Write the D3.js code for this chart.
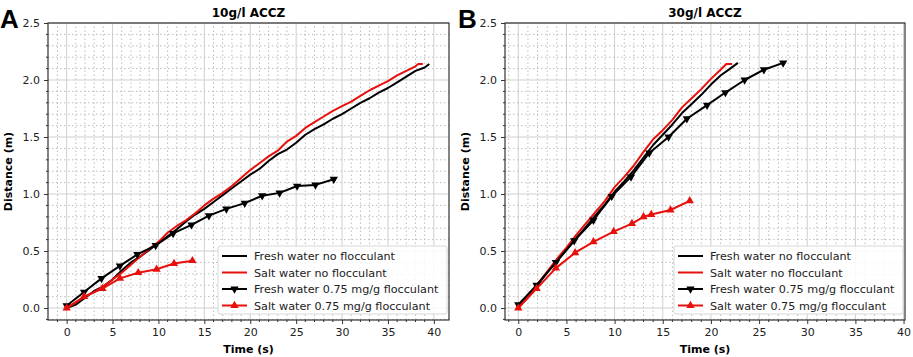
<!DOCTYPE html>
<html>
<head>
<meta charset="utf-8">
<script src="https://cdn.jsdelivr.net/npm/d3@7"></script>
<style>
  body { margin: 0; background: #fff; }
  svg { display: block; font-family: "DejaVu Sans", sans-serif; }
</style>
</head>
<body>
<svg id="drawing_region"></svg>
<script>
// ---- data ----
const xTicks = [0, 5, 10, 15, 20, 25, 30, 35, 40];
const yTicks = [0.0, 0.5, 1.0, 1.5, 2.0, 2.5];
const seriesNames = [
    "Fresh water no flocculant",
    "Salt water no flocculant",
    "Fresh water 0.75 mg/g flocculant",
    "Salt water 0.75 mg/g flocculant"
];

// panel A: 10g/l ACCZ
const freshA_t = [0,1,2,3,4,5,6,7,8,9,10,11,12,13,14,15,16,17,18,19,20,21,22,23,24,25,26,27,28,29,30,31,32,33,34,35,36,37,38,39,39.5];
const freshA_d = [0.0,0.03,0.09,0.15,0.19,0.25,0.33,0.40,0.45,0.51,0.57,0.63,0.69,0.76,0.82,0.87,0.93,0.99,1.05,1.11,1.17,1.22,1.29,1.35,1.39,1.45,1.52,1.57,1.61,1.66,1.70,1.75,1.80,1.84,1.89,1.93,1.98,2.03,2.08,2.11,2.14];
const saltA_t = [0,1,2,3,4,5,6,7,8,9,10,11,12,13,14,15,16,17,18,19,20,21,22,23,24,25,26,27,28,29,30,31,32,33,34,35,36,37,38,38.3,38.8];
const saltA_d = [0.0,0.05,0.10,0.14,0.19,0.25,0.31,0.38,0.45,0.52,0.58,0.66,0.72,0.77,0.83,0.90,0.96,1.01,1.07,1.14,1.21,1.27,1.33,1.38,1.46,1.51,1.58,1.63,1.68,1.73,1.77,1.81,1.86,1.91,1.95,1.99,2.04,2.08,2.12,2.14,2.14];
const freshFlocA_t = [0,1.9,3.8,5.8,7.7,9.7,11.6,13.6,15.5,17.4,19.4,21.3,23.2,25.1,27.1,29.1];
const freshFlocA_d = [0.02,0.14,0.26,0.37,0.47,0.55,0.655,0.73,0.81,0.87,0.92,0.985,1.01,1.07,1.08,1.13];
const saltFlocA_t = [0,1.9,3.9,5.8,7.8,9.8,11.7,13.7];
const saltFlocA_d = [0.0,0.10,0.17,0.26,0.31,0.34,0.39,0.415];

// panel B: 30g/l ACCZ
const freshB_t = [0,1,2,3,4,5,6,7,8,9,10,11,12,13,14,15,16,17,18,19,20,21,22,22.8];
const freshB_d = [0.02,0.10,0.20,0.31,0.41,0.51,0.61,0.71,0.81,0.91,1.02,1.11,1.21,1.32,1.43,1.52,1.61,1.71,1.79,1.87,1.96,2.04,2.10,2.15];
const saltB_t = [0,1,2,3,4,5,6,7,8,9,10,11,12,13,14,15,16,17,18,19,20,21,21.6,22.2];
const saltB_d = [0.0,0.10,0.21,0.32,0.43,0.53,0.64,0.74,0.84,0.94,1.06,1.15,1.25,1.37,1.48,1.56,1.65,1.76,1.84,1.92,2.01,2.09,2.14,2.14];
const freshFlocB_t = [0,1.9,3.9,5.8,7.8,9.7,11.7,13.6,15.6,17.5,19.6,21.5,23.5,25.5,27.5];
const freshFlocB_d = [0.03,0.20,0.40,0.59,0.77,0.98,1.15,1.36,1.50,1.66,1.78,1.89,2.00,2.09,2.15];
const saltFlocB_t = [0,1.9,3.9,5.9,7.8,9.9,11.8,13.0,13.8,15.8,17.8];
const saltFlocB_d = [0.0,0.17,0.35,0.485,0.58,0.67,0.74,0.80,0.82,0.86,0.94];

const zip = (t, d) => t.map((v, i) => ({ t: v, d: d[i] }));

const svg = d3.select('#drawing_region')
    .attr('width', 913)
    .attr('height', 357);

function drawPanel(cfg) {
    const x = d3.scaleLinear().domain(cfg.xDomain).range([cfg.left, cfg.right]);
    const y = d3.scaleLinear().domain([-0.105, 2.5]).range([320, 23]);
    const g = svg.append('g');

    // minor grid (dotted)
    const xMinor = d3.range(-1, 41, 1).filter(v => v % 5 !== 0 && v >= cfg.xDomain[0] && v <= cfg.xDomain[1]);
    const yMinor = d3.range(-1, 25, 1).map(v => v / 10).filter(v => Math.round(v * 10) % 5 !== 0 && v >= -0.105);
    g.selectAll('.xminor').data(xMinor).enter().append('line')
        .attr('x1', d => x(d)).attr('x2', d => x(d))
        .attr('y1', y.range()[0]).attr('y2', y.range()[1])
        .attr('stroke', '#bdbdbd').attr('stroke-width', 1).attr('stroke-dasharray', '1.5,2.5');
    g.selectAll('.yminor').data(yMinor).enter().append('line')
        .attr('x1', cfg.left).attr('x2', cfg.right)
        .attr('y1', d => y(d)).attr('y2', d => y(d))
        .attr('stroke', '#bdbdbd').attr('stroke-width', 1).attr('stroke-dasharray', '1.5,2.5');

    // major grid
    g.selectAll('.xmajor').data(xTicks).enter().append('line')
        .attr('x1', d => x(d)).attr('x2', d => x(d))
        .attr('y1', y.range()[0]).attr('y2', y.range()[1])
        .attr('stroke', '#cfcfcf').attr('stroke-width', 1);
    g.selectAll('.ymajor').data(yTicks).enter().append('line')
        .attr('x1', cfg.left).attr('x2', cfg.right)
        .attr('y1', d => y(d)).attr('y2', d => y(d))
        .attr('stroke', '#cfcfcf').attr('stroke-width', 1);

    // axes
    const xAxis = d3.axisBottom(x).tickValues(xTicks).tickFormat(d3.format('d')).tickSize(4).tickPadding(4);
    const yAxis = d3.axisLeft(y).tickValues(yTicks).tickFormat(d3.format('.1f')).tickSize(4).tickPadding(4);
    const xa = g.append('g').attr('transform', `translate(0,${y.range()[0]})`).call(xAxis);
    const ya = g.append('g').attr('transform', `translate(${cfg.left},0)`).call(yAxis);
    [xa, ya].forEach(a => {
        a.select('.domain').remove();
        a.selectAll('text').attr('font-size', 11).attr('fill', '#222').attr('font-family', 'DejaVu Sans');
        a.selectAll('line').attr('stroke', '#333');
    });
    // minor ticks
    g.selectAll('.xmt').data(xMinor).enter().append('line')
        .attr('x1', d => x(d)).attr('x2', d => x(d))
        .attr('y1', y.range()[0]).attr('y2', y.range()[0] + 2)
        .attr('stroke', '#333');
    g.selectAll('.ymt').data(yMinor).enter().append('line')
        .attr('x1', cfg.left - 2).attr('x2', cfg.left)
        .attr('y1', d => y(d)).attr('y2', d => y(d))
        .attr('stroke', '#333');

    // series
    const line = d3.line().x(d => x(d.t)).y(d => y(d.d));
    const series = [
        { data: cfg.fresh, color: '#000', marker: null },
        { data: cfg.salt, color: '#e8100c', marker: null },
        { data: cfg.freshFloc, color: '#000', marker: 'down' },
        { data: cfg.saltFloc, color: '#e8100c', marker: 'up' }
    ];
    const tri = d3.symbol().type(d3.symbolTriangle).size(30);
    series.forEach(s => {
        g.append('path').datum(s.data)
            .attr('d', line).attr('fill', 'none')
            .attr('stroke', s.color).attr('stroke-width', 2)
            .attr('stroke-linejoin', 'round');
        if (s.marker) {
            g.selectAll(null).data(s.data).enter().append('path')
                .attr('d', tri)
                .attr('transform', d => `translate(${x(d.t)},${y(d.d)}) rotate(${s.marker === 'down' ? 180 : 0})`)
                .attr('fill', s.color);
        }
    });

    // frame
    g.append('rect')
        .attr('x', cfg.left).attr('y', y.range()[1])
        .attr('width', cfg.right - cfg.left).attr('height', y.range()[0] - y.range()[1])
        .attr('fill', 'none').attr('stroke', '#333').attr('stroke-width', 1.2);

    // legend
    const lg = g.append('g').attr('transform', `translate(${cfg.right - 231},246)`);
    lg.append('rect').attr('width', 229).attr('height', 68).attr('rx', 2)
        .attr('fill', 'rgba(255,255,255,0.85)').attr('stroke', '#d8d8d8');
    series.forEach((s, i) => {
        const yy = 10 + i * 16.5;
        lg.append('line').attr('x1', 4).attr('x2', 29).attr('y1', yy).attr('y2', yy)
            .attr('stroke', s.color).attr('stroke-width', 2);
        if (s.marker) {
            lg.append('path').attr('d', tri)
                .attr('transform', `translate(16.5,${yy}) rotate(${s.marker === 'down' ? 180 : 0})`)
                .attr('fill', s.color);
        }
        lg.append('text').attr('x', 36).attr('y', yy + 4)
            .attr('font-size', 11.2).attr('fill', '#222')
            .text(seriesNames[i]);
    });

    // title, labels, panel letter
    g.append('text').attr('x', (cfg.left + cfg.right) / 2).attr('y', 17)
        .attr('text-anchor', 'middle').attr('font-weight', 'bold').attr('font-size', 12)
        .text(cfg.title);
    g.append('text').attr('x', (cfg.left + cfg.right) / 2).attr('y', 353)
        .attr('text-anchor', 'middle').attr('font-weight', 'bold').attr('font-size', 11)
        .text('Time (s)');
    g.append('text')
        .attr('transform', `translate(${cfg.left - 36},${(y.range()[0] + y.range()[1]) / 2}) rotate(-90)`)
        .attr('text-anchor', 'middle').attr('font-weight', 'bold').attr('font-size', 11)
        .text('Distance (m)');
    g.append('text').attr('x', cfg.letterX).attr('y', 28)
        .attr('font-family', 'Liberation Sans, Arial, sans-serif')
        .attr('font-weight', 'bold').attr('font-size', 26)
        .text(cfg.letter);
}

drawPanel({
    left: 48, right: 449, xDomain: [-2.03, 41.65],
    title: '10g/l ACCZ', letter: 'A', letterX: 0,
    fresh: zip(freshA_t, freshA_d), salt: zip(saltA_t, saltA_d),
    freshFloc: zip(freshFlocA_t, freshFlocA_d), saltFloc: zip(saltFlocA_t, saltFlocA_d)
});
drawPanel({
    left: 505, right: 905, xDomain: [-1.38, 40.15],
    title: '30g/l ACCZ', letter: 'B', letterX: 458,
    fresh: zip(freshB_t, freshB_d), salt: zip(saltB_t, saltB_d),
    freshFloc: zip(freshFlocB_t, freshFlocB_d), saltFloc: zip(saltFlocB_t, saltFlocB_d)
});
</script>
</body>
</html>
